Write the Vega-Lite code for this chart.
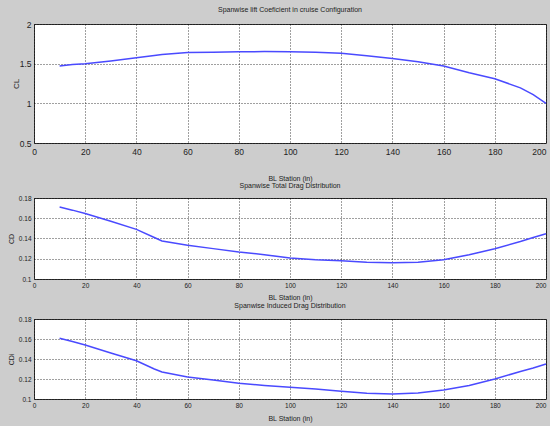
{
  "$schema": "https://vega.github.io/schema/vega-lite/v6.json",
  "background": "#cdcdcd",
  "padding": {"left": 6, "top": 5, "right": 0, "bottom": 4},
  "bounds": "flush",
  "spacing": 15,
  "config": {
    "font": "Liberation Sans, Arial, sans-serif",
    "view": {"stroke": "#333333", "strokeWidth": 1, "fill": "white"},
    "axis": {
      "grid": true,
      "gridColor": "#000000",
      "gridDash": [1, 2],
      "gridOpacity": 0.75,
      "gridWidth": 1,
      "domain": false,
      "ticks": false,
      "labelFlush": false,
      "labelColor": "#222222",
      "titleColor": "#222222",
      "titleFontWeight": "normal",
      "labelPadding": 3
    },
    "axisX": {
      "labelAlign": {"condition": {"test": "datum.value == 200", "value": "right"}, "value": "center"},
      "labelDx": {"condition": {"test": "datum.value == 200", "value": 4}, "value": 0}
    },
    "title": {"fontWeight": "normal", "color": "#222222"}
  },
  "data": {
    "values": [
      {"x": 10, "CL": 1.47, "CD": 0.1711, "CDi": 0.1607},
      {"x": 15, "CL": 1.49, "CD": 0.168, "CDi": 0.1575},
      {"x": 20, "CL": 1.5, "CD": 0.1646, "CDi": 0.154},
      {"x": 30, "CL": 1.535, "CD": 0.157, "CDi": 0.146},
      {"x": 40, "CL": 1.575, "CD": 0.149, "CDi": 0.1383},
      {"x": 47, "CL": 1.603, "CD": 0.141, "CDi": 0.13},
      {"x": 50, "CL": 1.615, "CD": 0.1375, "CDi": 0.127},
      {"x": 60, "CL": 1.64, "CD": 0.1333, "CDi": 0.122},
      {"x": 70, "CL": 1.645, "CD": 0.13, "CDi": 0.119},
      {"x": 80, "CL": 1.65, "CD": 0.1267, "CDi": 0.1157},
      {"x": 90, "CL": 1.652, "CD": 0.124, "CDi": 0.1135},
      {"x": 100, "CL": 1.65, "CD": 0.1207, "CDi": 0.1117},
      {"x": 110, "CL": 1.645, "CD": 0.119, "CDi": 0.11},
      {"x": 120, "CL": 1.63, "CD": 0.118, "CDi": 0.1077},
      {"x": 130, "CL": 1.6, "CD": 0.1165, "CDi": 0.1057},
      {"x": 140, "CL": 1.565, "CD": 0.116, "CDi": 0.105},
      {"x": 150, "CL": 1.525, "CD": 0.1165, "CDi": 0.106},
      {"x": 160, "CL": 1.47, "CD": 0.119, "CDi": 0.109},
      {"x": 170, "CL": 1.385, "CD": 0.124, "CDi": 0.1135},
      {"x": 180, "CL": 1.31, "CD": 0.1298, "CDi": 0.12},
      {"x": 190, "CL": 1.195, "CD": 0.137, "CDi": 0.1275},
      {"x": 195, "CL": 1.11, "CD": 0.141, "CDi": 0.131},
      {"x": 200, "CL": 1.0, "CD": 0.1446, "CDi": 0.135}
    ]
  },
  "vconcat": [
    {
      "width": 512,
      "height": 119,
      "title": {"text": "Spanwise lift Coeficient in cruise Configuration", "fontSize": 7, "offset": 7},
      "mark": {"type": "line", "color": "#4a4aff", "strokeWidth": 1.5},
      "encoding": {
        "x": {"field": "x", "type": "quantitative",
          "scale": {"domain": [0, 200], "nice": false},
          "axis": {"values": [0, 20, 40, 60, 80, 100, 120, 140, 160, 180, 200], "title": "BL Station (in)",
            "labelFontSize": 8.5, "titleFontSize": 7, "titleY": 35, "titleBaseline": "middle", "labelPadding": 4}},
        "y": {"field": "CL", "type": "quantitative",
          "scale": {"domain": [0.5, 2], "nice": false, "zero": false},
          "axis": {"values": [0.5, 1, 1.5, 2], "format": "~g", "title": "CL",
            "labelFontSize": 8.5, "titleFontSize": 8, "titleX": -18, "titleBaseline": "middle"}}
      }
    },
    {
      "width": 512,
      "height": 25,
      "view": {"stroke": null, "fill": null},
      "mark": {"type": "point", "opacity": 0},
      "encoding": {}
    },
    {
      "width": 512,
      "height": 81,
      "title": {"text": "Spanwise Total Drag Distribution", "fontSize": 7, "offset": 6},
      "mark": {"type": "line", "color": "#4a4aff", "strokeWidth": 1.5},
      "encoding": {
        "x": {"field": "x", "type": "quantitative",
          "scale": {"domain": [0, 200], "nice": false},
          "axis": {"values": [0, 20, 40, 60, 80, 100, 120, 140, 160, 180, 200], "title": "BL Station (in)",
            "labelFontSize": 6.5, "titleFontSize": 7, "titleY": 18, "titleBaseline": "middle"}},
        "y": {"field": "CD", "type": "quantitative",
          "scale": {"domain": [0.1, 0.18], "nice": false, "zero": false},
          "axis": {"values": [0.1, 0.12, 0.14, 0.16, 0.18], "format": "~g", "title": "CD",
            "labelFontSize": 6.5, "titleFontSize": 7, "titleX": -23, "titleBaseline": "middle"}}
      }
    },
    {
      "width": 512,
      "height": 10,
      "view": {"stroke": null, "fill": null},
      "mark": {"type": "point", "opacity": 0},
      "encoding": {}
    },
    {
      "width": 512,
      "height": 80,
      "title": {"text": "Spanwise Induced Drag Distribution", "fontSize": 7, "offset": 7},
      "mark": {"type": "line", "color": "#4a4aff", "strokeWidth": 1.5},
      "encoding": {
        "x": {"field": "x", "type": "quantitative",
          "scale": {"domain": [0, 200], "nice": false},
          "axis": {"values": [0, 20, 40, 60, 80, 100, 120, 140, 160, 180, 200], "title": "BL Station (in)",
            "labelFontSize": 6.5, "titleFontSize": 7, "titleY": 19, "titleBaseline": "middle"}},
        "y": {"field": "CDi", "type": "quantitative",
          "scale": {"domain": [0.1, 0.18], "nice": false, "zero": false},
          "axis": {"values": [0.1, 0.12, 0.14, 0.16, 0.18], "format": "~g", "title": "CDi",
            "labelFontSize": 6.5, "titleFontSize": 7, "titleX": -23, "titleBaseline": "middle"}}
      }
    }
  ]
}
